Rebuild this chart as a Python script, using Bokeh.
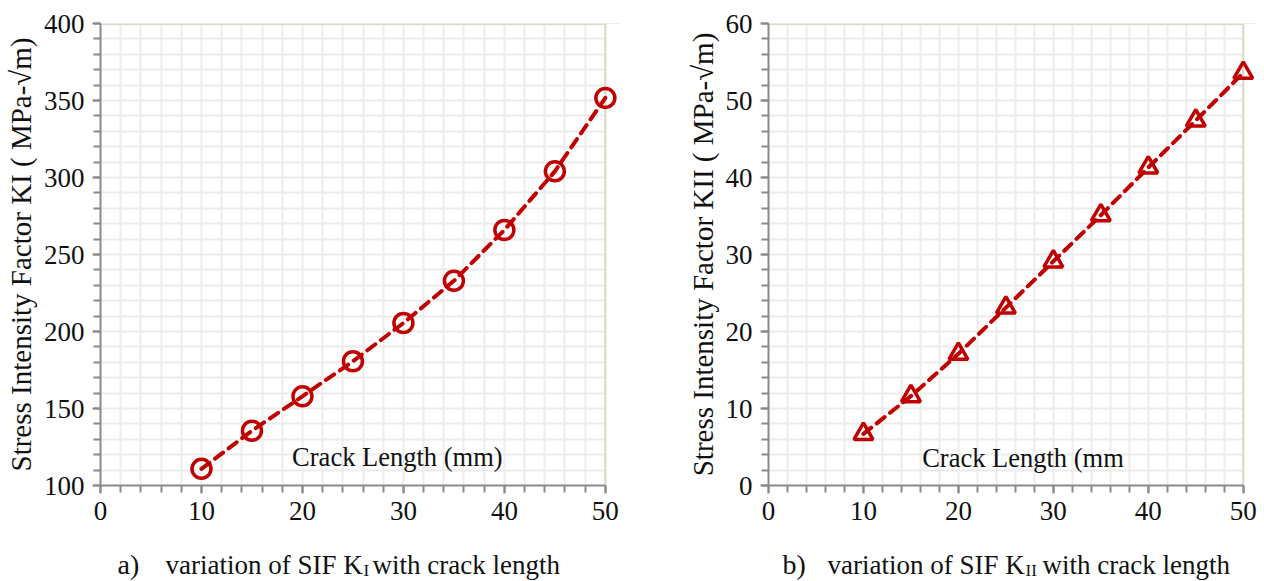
from bokeh.plotting import figure
from bokeh.layouts import row, column
from bokeh.models import Range1d, SingleIntervalTicker, Label, Span, BoxAnnotation
from bokeh.embed import file_html
from bokeh.resources import INLINE

# Crack length (mm) and the two stress intensity factors (MPa-sqrt(m))
crack_mm = [10, 15, 20, 25, 30, 35, 40, 45, 50]
k_one = [110.8, 135.6, 157.9, 180.7, 205.5, 232.9, 265.9, 304.0, 351.7]
k_two = [6.7, 11.6, 17.1, 23.1, 29.1, 35.1, 41.3, 47.4, 53.6]

x_limits = (0, 50)
k_one_limits = (100, 400)
k_two_limits = (0, 60)

SERIF = "Liberation Serif"
RED = "#c00000"
AXIS_GREY = "#8a8a8a"
GRID_GREY = "#ececec"
BORDER = "#dcd7c0"
INK = "#111111"


def make_panel(width, height, left, right, top, bottom, y_limits, y_major, y_minor, y_title):
    # a little room past x = 50 keeps the last marker whole; it is masked below
    p = figure(width=width, height=height, output_backend="svg", toolbar_location=None,
               x_range=Range1d(x_limits[0], x_limits[1] + 1.5), y_range=Range1d(*y_limits),
               min_border_left=left, min_border_right=right,
               min_border_top=top, min_border_bottom=bottom)
    p.background_fill_color = "white"
    p.border_fill_color = "white"
    p.outline_line_color = None

    p.xaxis.ticker = SingleIntervalTicker(interval=10, num_minor_ticks=5)
    p.yaxis.ticker = SingleIntervalTicker(interval=y_major, num_minor_ticks=5)
    p.xaxis.bounds = x_limits
    p.xgrid.ticker = SingleIntervalTicker(interval=2)
    p.ygrid.ticker = SingleIntervalTicker(interval=y_minor)
    for g in (p.xgrid, p.ygrid):
        g.grid_line_color = GRID_GREY
        g.grid_line_width = 2

    # beige frame edge along the top, white mask past the right edge, beige right edge
    p.add_layout(Span(location=y_limits[1], dimension="width", line_color=BORDER,
                      line_width=3, level="underlay"))
    p.add_layout(BoxAnnotation(left=x_limits[1], fill_color="white", fill_alpha=1,
                               line_alpha=0, level="underlay"))
    p.add_layout(Span(location=x_limits[1], dimension="height", line_color=BORDER,
                      line_width=2, level="underlay"))

    for ax in (p.xaxis, p.yaxis):
        ax.axis_line_color = AXIS_GREY
        ax.axis_line_width = 2
        ax.major_tick_line_color = AXIS_GREY
        ax.minor_tick_line_color = AXIS_GREY
        ax.major_tick_line_width = 2
        ax.minor_tick_line_width = 2
        ax.major_tick_in = 0
        ax.minor_tick_in = 0
        ax.major_tick_out = 8
        ax.minor_tick_out = 7
        ax.major_label_text_font = SERIF
        ax.major_label_text_font_size = "27px"
        ax.major_label_text_color = INK
        ax.major_label_standoff = 8

    p.yaxis.axis_label = y_title
    p.yaxis.axis_label_text_font = SERIF
    p.yaxis.axis_label_text_font_size = "29px"
    p.yaxis.axis_label_text_font_style = "normal"
    p.yaxis.axis_label_text_color = INK
    p.yaxis.axis_label_standoff = 4
    return p


# Panel a: mode I stress intensity factor
pa = make_panel(640, 541, 100, 20, 20, 49, k_one_limits, 50, 10,
                "Stress Intensity Factor KI ( MPa-\u221am)")
pa.line(crack_mm, k_one, line_color=RED, line_width=4, line_dash="10 7", line_cap="round")
pa.scatter(crack_mm, k_one, marker="circle", size=19, line_color=RED, line_width=3.5,
           fill_alpha=0)
pa.add_layout(Label(x=29.4, y=118.5, text="Crack Length (mm)", text_font=SERIF,
                    text_font_size="26.5px", text_color=INK,
                    text_align="center", text_baseline="middle"))

# Panel b: mode II stress intensity factor
pb = make_panel(624, 541, 128, 7, 23, 56, k_two_limits, 10, 2,
                "Stress Intensity Factor KII ( MPa-\u221am)")
pb.line(crack_mm, k_two, line_color=RED, line_width=4, line_dash="10 7", line_cap="round")
pb.scatter(crack_mm, k_two, marker="triangle", size=19, line_color=RED, line_width=3.5,
           fill_alpha=0)
pb.add_layout(Label(x=26.8, y=3.6, text="Crack Length (mm", text_font=SERIF,
                    text_font_size="26.5px", text_color=INK,
                    text_align="center", text_baseline="middle"))

# Caption strip under both panels (coordinates in pixels of the strip)
cap = figure(width=1264, height=40, output_backend="svg", toolbar_location=None,
             x_range=Range1d(0, 1264), y_range=Range1d(0, 40),
             min_border=0, outline_line_color=None)
cap.axis.visible = False
cap.grid.visible = False
cap.background_fill_color = "white"
cap.border_fill_color = "white"

caption_parts = [
    ("a)", 117, 17, "28px"),
    ("variation of SIF K", 165, 17, "27px"),
    ("I", 363, 11, "17px"),
    ("with crack length", 372, 17, "27px"),
    ("b)", 782, 17, "28px"),
    ("variation of SIF K", 827, 17, "27px"),
    ("II", 1025, 11, "17px"),
    ("with crack length", 1042, 17, "27px"),
]
for text, cx, cy, size in caption_parts:
    cap.add_layout(Label(x=cx, y=cy, text=text, text_font=SERIF, text_font_size=size,
                         text_color=INK, text_baseline="middle", text_align="left"))

layout = column(row(pa, pb), cap)
open("out.html", "w").write(file_html(layout, INLINE))
